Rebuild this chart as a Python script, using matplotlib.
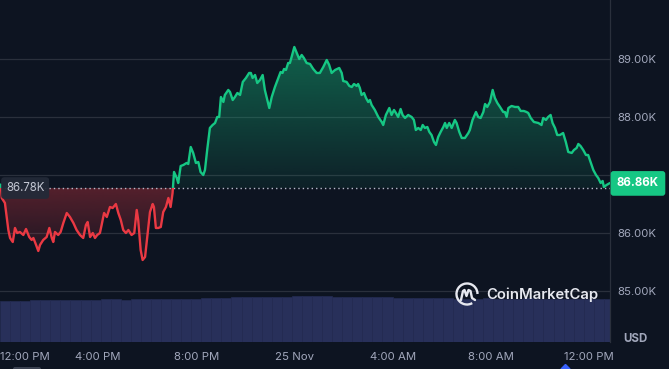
import numpy as np
import matplotlib
matplotlib.use("Agg")
import matplotlib.pyplot as plt
from matplotlib.path import Path
from matplotlib.patches import Arc, Polygon, FancyBboxPatch, Rectangle
from matplotlib.transforms import blended_transform_factory
from matplotlib.colors import to_rgb

# ---------------- data ----------------
hours = [0.00, 0.03, 0.07, 0.20, 0.34, 0.41, 0.52, 0.61, 0.70, 0.81, 0.95, 1.06, 1.19, 1.29, 1.36,
         1.47, 1.56, 1.63, 1.76, 1.90, 2.01, 2.11, 2.17, 2.24, 2.37, 2.47, 2.58, 2.72, 2.85, 2.99,
         3.12, 3.26, 3.39, 3.50, 3.57, 3.67, 3.78, 3.87, 3.96, 4.07, 4.14, 4.24, 4.35, 4.48, 4.59,
         4.72, 4.82, 4.92, 5.02, 5.13, 5.23, 5.36, 5.47, 5.57, 5.63, 5.73, 5.81, 5.91, 6.00, 6.11,
         6.22, 6.27, 6.35, 6.45, 6.55, 6.65, 6.76, 6.86, 6.95, 7.03, 7.09, 7.20, 7.26, 7.36, 7.47,
         7.60, 7.67, 7.77, 7.87, 7.98, 8.08, 8.17, 8.28, 8.35, 8.44, 8.55, 8.66, 8.76, 8.85, 8.93,
         9.00, 9.10, 9.16, 9.30, 9.37, 9.48, 9.57, 9.67, 9.78, 9.89, 10.02, 10.15, 10.22, 10.29, 10.39,
         10.48, 10.59, 10.70, 10.79, 10.89, 10.97, 11.07, 11.20, 11.34, 11.43, 11.51, 11.57, 11.65, 11.74, 11.81,
         11.88, 11.99, 12.09, 12.19, 12.29, 12.38, 12.49, 12.63, 12.76, 12.90, 13.03, 13.17, 13.31, 13.41, 13.51,
         13.65, 13.82, 13.92, 13.98, 14.12, 14.23, 14.33, 14.42, 14.53, 14.59, 14.66, 14.73, 14.83, 14.91, 15.00,
         15.07, 15.14, 15.27, 15.41, 15.55, 15.61, 15.72, 15.86, 15.95, 16.05, 16.13, 16.22, 16.32, 16.40, 16.50,
         16.63, 16.77, 16.86, 16.94, 17.04, 17.14, 17.22, 17.31, 17.41, 17.49, 17.58, 17.68, 17.76, 17.85, 17.95,
         18.06, 18.13, 18.20, 18.30, 18.40, 18.53, 18.60, 18.71, 18.81, 18.94, 19.08, 19.14, 19.25, 19.39, 19.48,
         19.58, 19.69, 19.76, 19.85, 19.96, 20.07, 20.16, 20.26, 20.37, 20.50, 20.57, 20.64, 20.71, 20.84, 20.98,
         21.11, 21.21, 21.34, 21.45, 21.52, 21.62, 21.75, 21.93, 22.06, 22.13, 22.24, 22.33, 22.43, 22.51, 22.61,
         22.70, 22.81, 22.94, 23.05, 23.15, 23.29, 23.38, 23.49, 23.56, 23.65, 23.76, 23.87, 23.96, 24.06, 24.17,
         24.28, 24.37, 24.47, 24.55, 24.60, 24.71, 24.82]

prices = [86790, 86840, 86609, 86523, 86057, 85919, 85850, 86092, 86005, 86023, 85971, 86074, 85936, 85885, 85919,
          85799, 85695, 85799, 85885, 85936, 86092, 85919, 85850, 86023, 85971, 86023, 86178, 86350, 86281, 86178,
          86057, 85971, 85919, 86143, 86195, 85936, 86005, 85919, 85971, 86005, 86143, 86350, 86281, 86454, 86436,
          86505, 86350, 86230, 86057, 86005, 86057, 85971, 86005, 86402, 86230, 85712, 85540, 85592, 85936, 86367,
          86505, 86454, 86092, 86092, 86109, 86367, 86454, 86609, 86454, 86695, 87057, 86954, 86867, 87160, 87178,
          87212, 87195, 87488, 87385, 87212, 87229, 87057, 87005, 87092, 87436, 87816, 87867, 87902, 88005, 88005,
          88350, 88264, 88385, 88471, 88436, 88298, 88350, 88419, 88385, 88609, 88678, 88764, 88764, 88678, 88729,
          88591, 88643, 88729, 88471, 88298, 88160, 88350, 88522, 88678, 88781, 88764, 88833, 88816, 88936, 88936,
          89040, 89212, 89109, 89005, 89074, 89022, 88936, 88919, 88833, 88764, 88764, 88867, 88988, 88902, 88764,
          88816, 88850, 88764, 88626, 88609, 88540, 88522, 88574, 88540, 88574, 88505, 88385, 88419, 88333, 88264,
          88298, 88212, 88126, 88005, 87919, 87867, 88040, 88160, 88040, 88126, 88074, 88005, 88143, 88040, 87988,
          88040, 88005, 87954, 87781, 87816, 87781, 87867, 87816, 87833, 87747, 87695, 87574, 87523, 87660, 87747,
          87833, 87902, 87816, 87902, 87816, 87954, 87902, 87747, 87643, 87643, 87729, 87781, 87954, 88091, 88005,
          87988, 88091, 88229, 88178, 88264, 88471, 88333, 88247, 88178, 88091, 88091, 88005, 88160, 88195, 88178,
          88178, 88109, 88109, 88091, 88074, 87988, 87919, 87902, 87867, 87988, 87954, 88005, 88040, 87902, 87816,
          87695, 87695, 87729, 87574, 87402, 87385, 87436, 87471, 87540, 87505, 87436, 87350, 87350, 87229, 87092,
          87005, 86954, 86867, 86902, 86798, 86833, 86860]

open_price = 86780
last_price = 86860

volumes = [0.98, 0.99, 0.99, 1.00, 1.00, 1.01, 1.00, 1.01, 1.01, 1.00, 1.02, 1.02, 1.01, 1.02, 1.03,
           1.03, 1.03, 1.04, 1.03, 1.04, 1.05, 1.06, 1.06, 1.07, 1.07, 1.08, 1.08, 1.09, 1.09, 1.10,
           1.10, 1.11, 1.10, 1.09, 1.09, 1.08, 1.08, 1.07, 1.07, 1.06, 1.06, 1.06, 1.05, 1.05, 1.05,
           1.04, 1.04, 1.04, 1.05, 1.04, 1.04, 1.04, 1.05, 1.04, 1.04, 1.04, 1.04, 1.03, 1.04, 1.03,
           1.02]

price_ticks = [85000, 86000, 88000, 89000]
price_tick_labels = ["85.00K", "86.00K", "88.00K", "89.00K"]
grid_levels = [85000, 86000, 87000, 88000, 89000]
time_ticks = [0, 4, 8, 12, 16, 20, 24]
time_tick_labels = ["12:00 PM", "4:00 PM", "8:00 PM", "25 Nov", "4:00 AM", "8:00 AM", "12:00 PM"]

# ---------------- style ----------------
BG = "#0d1421"
GREEN = "#16c784"
RED = "#ea3943"
GRID = "#2a303c"
TXT = "#a1a7bb"
FONT = ["Inter", "DejaVu Sans"]
plt.rcParams["font.family"] = FONT

W, H = 669, 369
fig = plt.figure(figsize=(W / 100, H / 100), dpi=100, facecolor=BG)

rect = [0, (H - 342) / H, 610 / W, 342 / H]
vax = fig.add_axes(rect)
ax = fig.add_axes(rect)
vax.set_zorder(1)
ax.set_zorder(2)
ax.patch.set_alpha(0)
vax.set_facecolor(BG)

t = np.array(hours)
p = np.array(prices)
XMIN, XMAX = 0.0, 24.85
YMIN, YMAX = 84126, 90022

# volume
vt = np.linspace(0.0, 24.6, len(volumes))
step = vt[1] - vt[0]
vax.bar(vt, volumes, width=step, align="edge", color="#28305a", edgecolor="#242b52", linewidth=0.5)
vax.set_xlim(XMIN, XMAX)
vax.set_ylim(0, 8.2)
vax.axis("off")

# grid
for g in grid_levels:
    ax.axhline(g, color=GRID, lw=0.9, zorder=0.5)

# gradient fills
def gradient_fill(where, color, a_lo, a_hi, y_lo, y_hi):
    coll = ax.fill_between(t, p, open_price, where=where, interpolate=True)
    path = Path.make_compound_path(*coll.get_paths())
    coll.remove()
    n = 256
    arr = np.zeros((n, 1, 4))
    arr[:, 0, :3] = to_rgb(color)
    arr[:, 0, 3] = np.linspace(a_lo, a_hi, n)
    im = ax.imshow(arr, extent=[XMIN, XMAX, y_lo, y_hi], origin="lower",
                   aspect="auto", zorder=1, interpolation="bilinear")
    im.set_clip_path(path, ax.transData)

gradient_fill(p >= open_price, GREEN, 0.07, 0.45, open_price, 89300)
gradient_fill(p <= open_price, RED, 0.04, 0.33, 85500, open_price)

# price line split by baseline
lg, = ax.plot(t, p, color=GREEN, lw=1.7, zorder=3, solid_joinstyle="round")
lg.set_clip_path(Rectangle((XMIN, open_price), XMAX - XMIN, YMAX - open_price, transform=ax.transData))
lr, = ax.plot(t, p, color=RED, lw=1.7, zorder=3, solid_joinstyle="round")
lr.set_clip_path(Rectangle((XMIN, YMIN), XMAX - XMIN, open_price - YMIN, transform=ax.transData))

ax.axhline(open_price, color="#b7bccb", lw=1.0, ls=(0, (1, 2.2)), zorder=2)

ax.set_xlim(XMIN, XMAX)
ax.set_ylim(YMIN, YMAX)

# axes styling
for s in ["top", "left", "bottom"]:
    ax.spines[s].set_visible(False)
ax.spines["right"].set_color(GRID)
ax.spines["right"].set_linewidth(0.9)
ax.yaxis.tick_right()
ax.set_yticks(price_ticks)
ax.set_yticklabels(price_tick_labels)
ax.set_xticks(time_ticks)
ax.set_xticklabels(time_tick_labels)
ax.tick_params(axis="y", length=0, pad=5, labelsize=8.2, labelcolor=TXT)
ax.tick_params(axis="x", length=0, pad=7, labelsize=8.2, labelcolor=TXT)
ax.get_xticklabels()[0].set_ha("left")

blend = blended_transform_factory(ax.transAxes, ax.transData)
ax.annotate(f"{last_price/1000:.2f}K", xy=(1, last_price), xycoords=blend,
            xytext=(5, 0), textcoords="offset points", ha="left", va="center",
            fontsize=8.3, fontweight="bold", color="white", zorder=10, annotation_clip=False,
            bbox=dict(boxstyle="round,pad=0.55,rounding_size=0.25", fc=GREEN, ec="none"))
ax.annotate(f"{open_price/1000:.2f}K", xy=(0, open_price), xycoords=blend,
            xytext=(4.3, 0), textcoords="offset points", ha="left", va="center",
            fontsize=8.3, color="#c3c7d3", zorder=10, annotation_clip=False,
            bbox=dict(boxstyle="round,pad=0.42,rounding_size=0.3", fc="#232a38", ec="none", alpha=0.95))

# overlay in pixel coordinates
ov = fig.add_axes([0, 0, 1, 1])
ov.set_zorder(5)
ov.set_xlim(0, W)
ov.set_ylim(H, 0)
ov.axis("off")
ov.patch.set_alpha(0)

LOGO = "#e6e8ef"
cx, cy, r = 467, 294, 10.5
ov.add_patch(Arc((cx, cy), 2 * r, 2 * r, theta1=60, theta2=360, color=LOGO, lw=1.7))
wave = [(cx - 6, cy + 6), (cx - 4, cy - 3), (cx - 2.5, cy - 4), (cx - 0.5, cy + 2),
        (cx + 1.5, cy - 4), (cx + 3.5, cy - 3), (cx + 5, cy + 4), (cx + 8, cy + 6)]
ov.plot([q[0] for q in wave], [q[1] for q in wave], color=LOGO, lw=1.7,
        solid_joinstyle="round", solid_capstyle="round")
ov.text(486, 295, "CoinMarketCap", fontsize=10.7, color=LOGO, fontweight="semibold",
        ha="left", va="center")
ov.text(635, 339, "USD", fontsize=8.3, color=TXT, fontweight="bold", ha="center", va="center")
ov.add_patch(Polygon([(561, 369), (565.5, 364.5), (570, 369)], closed=True, color="#3861fb"))
ov.add_patch(FancyBboxPatch((13, 367), 28, 4, boxstyle="round,pad=0,rounding_size=2",
                            fc="#3a4150", ec="none"))

fig.savefig("out.png", dpi=100, facecolor=BG)
